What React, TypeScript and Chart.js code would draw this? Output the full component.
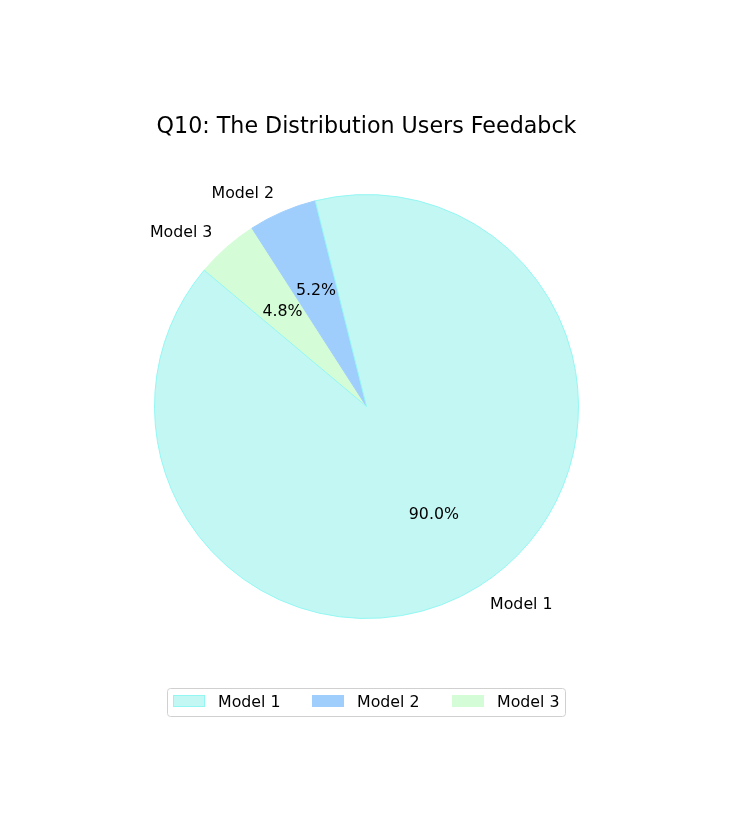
import React, { useEffect, useRef } from "react";
import { Chart, registerables } from "chart.js";

Chart.register(...registerables);

const TITLE = "Q10: The Distribution Users Feedabck";
const categories = ["Model 1", "Model 2", "Model 3"];
const values = [90.0, 5.2, 4.8];
const fillColors = ["#c3f7f4", "#a0cefc", "#d4fcd7"];
const edgeColors = ["#92f7f3", "#a0cefc", "#d4fcd7"];

const FONT = "'DejaVu Sans', sans-serif";

const W = 736;
const H = 833;

const labelsPlugin = {
  id: "mplLabels",
  afterDatasetsDraw(chart: any) {
    const ctx = chart.ctx as CanvasRenderingContext2D;
    const meta = chart.getDatasetMeta(0);
    const ds = chart.data.datasets[0];
    const total = (ds.data as number[]).reduce((a, b) => a + b, 0);
    const names = chart.data.labels as string[];
    ctx.save();
    ctx.fillStyle = "#000";
    meta.data.forEach((arc: any, i: number) => {
      const p = arc.getProps(["x", "y", "startAngle", "endAngle", "outerRadius"], true);
      const mid = (p.startAngle + p.endAngle) / 2;
      const c = Math.cos(mid);
      const s = Math.sin(mid);
      ctx.font = `15.8px ${FONT}`;
      ctx.textBaseline = "middle";
      ctx.textAlign = c > 0 ? "left" : "right";
      ctx.fillText(names[i], p.x + c * p.outerRadius * 1.1, p.y + s * p.outerRadius * 1.1 + 1);
      ctx.textAlign = "center";
      const pct = ((ds.data[i] as number) / total) * 100;
      ctx.fillText(pct.toFixed(1) + "%", p.x + c * p.outerRadius * 0.6, p.y + s * p.outerRadius * 0.6 + 1);
    });
    ctx.restore();
  },
  afterDraw(chart: any) {
    const ctx = chart.ctx as CanvasRenderingContext2D;
    const area = chart.chartArea;
    const cx = (area.left + area.right) / 2;
    ctx.save();
    ctx.fillStyle = "#000";
    ctx.font = `22.2px ${FONT}`;
    ctx.textAlign = "center";
    ctx.textBaseline = "alphabetic";
    ctx.fillText(TITLE, cx, 133);

    const boxL = 167, boxT = 688, boxW = 398, boxH = 28;
    ctx.strokeStyle = "#d0d0d0";
    ctx.lineWidth = 1;
    ctx.fillStyle = "rgba(255,255,255,0.8)";
    const r = 3;
    ctx.beginPath();
    ctx.moveTo(boxL + r + 0.5, boxT + 0.5);
    ctx.arcTo(boxL + boxW + 0.5, boxT + 0.5, boxL + boxW + 0.5, boxT + boxH + 0.5, r);
    ctx.arcTo(boxL + boxW + 0.5, boxT + boxH + 0.5, boxL + 0.5, boxT + boxH + 0.5, r);
    ctx.arcTo(boxL + 0.5, boxT + boxH + 0.5, boxL + 0.5, boxT + 0.5, r);
    ctx.arcTo(boxL + 0.5, boxT + 0.5, boxL + boxW + 0.5, boxT + 0.5, r);
    ctx.closePath();
    ctx.fill();
    ctx.stroke();

    const patchX = [173, 312, 452];
    ctx.font = `15.8px ${FONT}`;
    ctx.textAlign = "left";
    ctx.textBaseline = "middle";
    categories.forEach((name, i) => {
      ctx.fillStyle = fillColors[i];
      ctx.fillRect(patchX[i], 695, 32, 12);
      ctx.strokeStyle = edgeColors[i];
      ctx.strokeRect(patchX[i] + 0.5, 695.5, 31, 11);
      ctx.fillStyle = "#000";
      ctx.fillText(name, patchX[i] + 45, 703);
    });
    ctx.restore();
  },
};

export default function App() {
  const ref = useRef<HTMLCanvasElement | null>(null);

  useEffect(() => {
    if (!ref.current) return;
    // Chart.js draws clockwise; reverse order so slices run counter-clockwise like the source
    const order = categories.map((_, i) => i).reverse();
    const chart = new Chart(ref.current, {
      type: "pie",
      data: {
        labels: order.map((i) => categories[i]),
        datasets: [
          {
            data: order.map((i) => values[i]),
            backgroundColor: order.map((i) => fillColors[i]),
            borderColor: order.map((i) => edgeColors[i]),
            borderWidth: 1,
          },
        ],
      },
      options: {
        responsive: false,
        animation: false,
        rotation: -50,
        layout: { padding: { left: 154, right: 157, top: 194, bottom: 214 } },
        plugins: {
          legend: { display: false },
          title: { display: false },
          tooltip: { enabled: false },
        },
      },
      plugins: [labelsPlugin],
    });
    return () => chart.destroy();
  }, []);

  return (
    <div style={{ position: "absolute", left: 0, top: 0, width: W, height: H, background: "#fff" }}>
      <canvas ref={ref} width={W} height={H} style={{ width: W, height: H, display: "block" }} />
    </div>
  );
}
